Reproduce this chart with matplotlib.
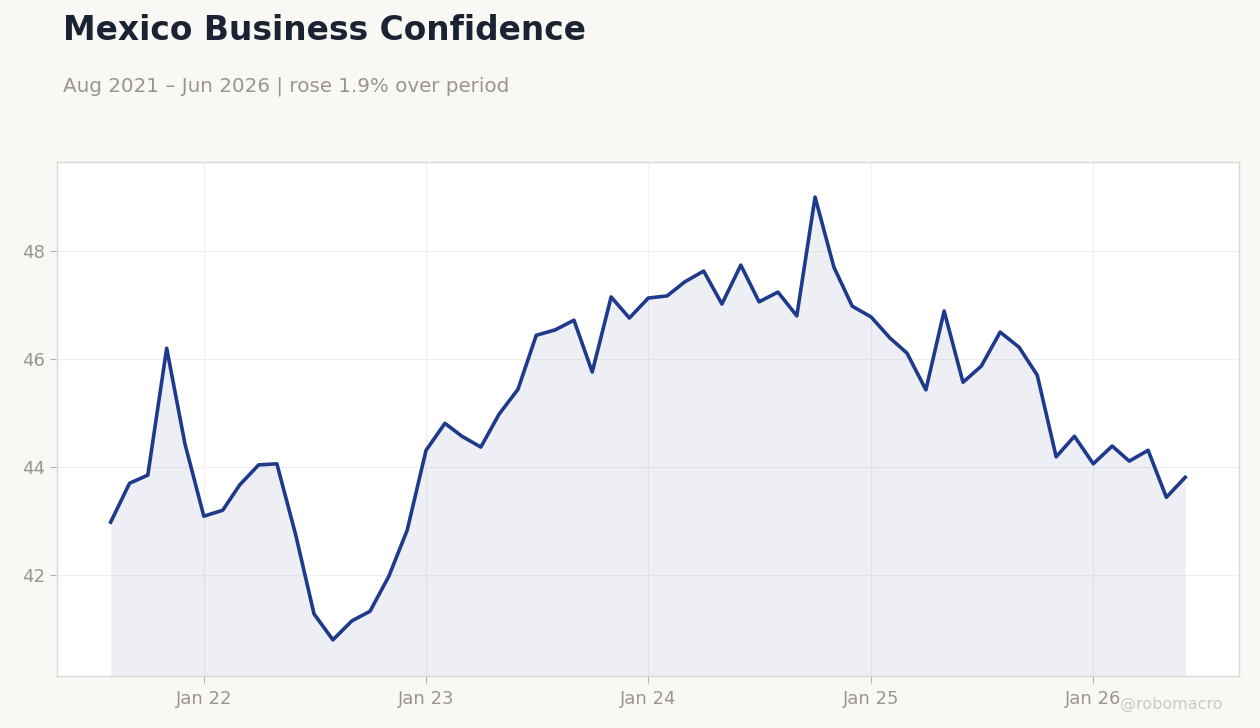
import matplotlib
matplotlib.use('Agg')
import matplotlib.pyplot as plt
import matplotlib.dates as mdates
import numpy as np
import pandas as pd

# monthly readings, Aug 2021 .. Jun 2026
months = pd.date_range('2021-08-01', '2026-06-01', freq='MS')
values = [42.98, 43.70, 43.85, 46.20, 44.43, 43.09, 43.20, 43.67, 44.04, 44.06,
          42.74, 41.28, 40.80, 41.15, 41.33, 41.98, 42.83, 44.31, 44.81, 44.57,
          44.37, 44.98, 45.44, 46.44, 46.54, 46.72, 45.76, 47.15, 46.76, 47.13,
          47.17, 47.43, 47.63, 47.02, 47.74, 47.06, 47.24, 46.80, 49.00, 47.70,
          46.98, 46.78, 46.39, 46.11, 45.43, 46.89, 45.57, 45.87, 46.50, 46.22,
          45.70, 44.19, 44.57, 44.06, 44.39, 44.11, 44.31, 43.44, 43.81]

title = 'Mexico Business Confidence'
subtitle = 'Aug 2021 \u2013 Jun 2026 | rose 1.9% over period'

bg = '#f9f8f5'
line_col = '#1f3a8a'
grey = '#9a958f'

fig = plt.figure(figsize=(12.6, 7.28), dpi=100, facecolor=bg)
ax = fig.add_axes([0.0452, 0.0714, 0.9381, 0.7061])
ax.set_facecolor('white')

ymin = 40.13
ax.fill_between(months, values, ymin, color=line_col, alpha=0.08, linewidth=0)
ax.plot(months, values, color=line_col, linewidth=2.6)

ax.set_ylim(ymin, 49.65)
ax.margins(x=0.05)
ax.set_yticks([42, 44, 46, 48])
ax.xaxis.set_major_locator(mdates.YearLocator(month=1))
ax.xaxis.set_major_formatter(mdates.DateFormatter('Jan %y'))

ax.grid(True, color='#f0f0f0', linewidth=0.8)
ax.set_axisbelow(True)
for s in ax.spines.values():
    s.set_color('#dcd8d2')
    s.set_linewidth(1)
ax.tick_params(colors='#b5b0aa', labelcolor=grey, labelsize=13, length=5, width=0.8)
ax.tick_params(axis='x', pad=5)

fig.text(0.05, 0.958, title, fontsize=23.7, fontweight='bold', color='#1b2333', va='center')
fig.text(0.05, 0.882, subtitle, fontsize=14.3, color=grey, va='center')
fig.text(0.97, 0.032, '@robomacro', fontsize=11.5, color='#cdc9c4', ha='right', va='center')

fig.savefig('out.png', dpi=100, facecolor=bg)
